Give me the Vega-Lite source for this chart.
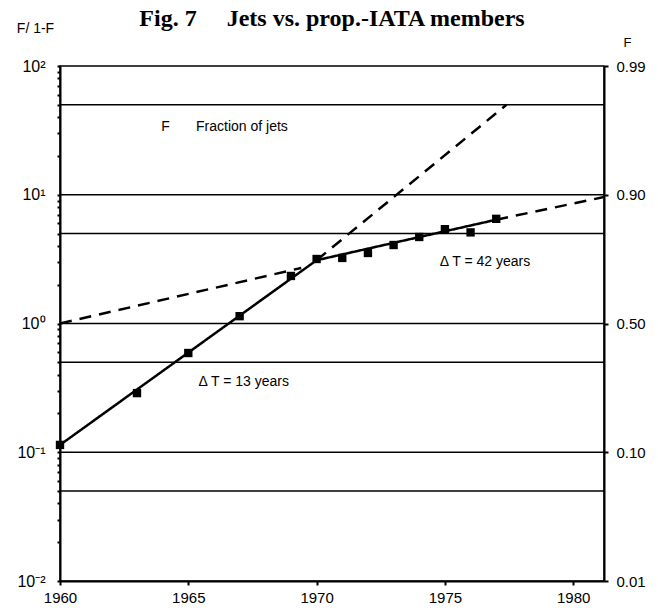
{
  "$schema": "https://vega.github.io/schema/vega-lite/v6.json",
  "width": 544,
  "height": 515,
  "autosize": "none",
  "padding": {"left": 60, "top": 66, "right": 54, "bottom": 30},
  "background": "white",
  "title": {"text": "Fig. 7\u00a0\u00a0\u00a0\u00a0\u00a0Jets vs. prop.-IATA members", "font": "Liberation Serif", "fontSize": 24, "fontWeight": "bold", "color": "black", "anchor": "middle", "baseline": "alphabetic", "offset": 0, "dy": 29},
  "config": {
    "view": {"stroke": "black", "strokeWidth": 1.5},
    "axis": {"domainColor": "black", "domainWidth": 2, "tickColor": "black", "labelColor": "black", "labelFont": "Liberation Sans", "labelFontSize": 15, "titleFont": "Liberation Sans", "titleColor": "black", "titleFontWeight": "normal", "grid": false}
  },
  "datasets": {
    "pts": [
      {"year": 1960, "v": 0.114}, {"year": 1963, "v": 0.288}, {"year": 1965, "v": 0.59},
      {"year": 1967, "v": 1.14}, {"year": 1969, "v": 2.34}, {"year": 1970, "v": 3.17},
      {"year": 1971, "v": 3.23}, {"year": 1972, "v": 3.53}, {"year": 1973, "v": 4.07},
      {"year": 1974, "v": 4.7}, {"year": 1975, "v": 5.4}, {"year": 1976, "v": 5.1},
      {"year": 1977, "v": 6.5}
    ],
    "fit": [
      {"seg": "D", "style": "solid", "year": 1960, "v": 0.114},
      {"seg": "D", "style": "solid", "year": 1970, "v": 3.1},
      {"seg": "E", "style": "solid", "year": 1970, "v": 3.1},
      {"seg": "E", "style": "solid", "year": 1977, "v": 6.4},
      {"seg": "A", "style": "dashed", "year": 1960, "v": 1.0},
      {"seg": "A", "style": "dashed", "year": 1969.4, "v": 2.7},
      {"seg": "B", "style": "dashed", "year": 1977, "v": 6.4},
      {"seg": "B", "style": "dashed", "year": 1981.2, "v": 9.6},
      {"seg": "C", "style": "dashed", "year": 1970, "v": 3.1},
      {"seg": "C", "style": "dashed", "year": 1977.4, "v": 50}
    ],
    "grid": [{"v": 50}, {"v": 10}, {"v": 5}, {"v": 1}, {"v": 0.5}, {"v": 0.1}, {"v": 0.05}],
    "notes": [
      {"year": 1963.95, "v": 33.6, "label": "F"},
      {"year": 1965.3, "v": 33.6, "label": "Fraction of jets"},
      {"year": 1965.4, "v": 0.352, "label": "Δ T = 13 years"},
      {"year": 1974.8, "v": 3.0, "label": "Δ T = 42 years"}
    ]
  },
  "resolve": {"axis": {"y": "independent"}},
  "layer": [
    {
      "data": {"name": "grid"},
      "mark": {"type": "rule", "color": "black", "strokeWidth": 1.5},
      "encoding": {
        "y": {"field": "v", "type": "quantitative", "scale": {"type": "log", "domain": [0.01, 100], "nice": false},
          "axis": {"orient": "right", "values": [100, 10, 1, 0.1, 0.01], "labelExpr": "datum.value == 100 ? '0.99' : datum.value == 10 ? '0.90' : datum.value == 1 ? '0.50' : datum.value == 0.1 ? '0.10' : '0.01'", "tickSize": 4, "tickWidth": 2, "labelPadding": 8, "labelOverlap": false, "labelBound": false, "labelFlush": false, "title": "F", "titleAngle": 0, "titleFontSize": 13, "titleX": 23, "titleY": -24, "titleAlign": "center", "titleBaseline": "middle"}}
      }
    },
    {
      "data": {"name": "fit"},
      "mark": {"type": "line", "color": "black", "strokeWidth": 2.5},
      "encoding": {
        "x": {"field": "year", "type": "quantitative", "scale": {"domain": [1960, 1981.2], "nice": false, "zero": false}},
        "y": {"field": "v", "type": "quantitative", "axis": null},
        "detail": {"field": "seg"},
        "strokeDash": {"field": "style", "type": "nominal", "scale": {"domain": ["solid", "dashed"], "range": [[1, 0], [12, 8]]}, "legend": null}
      }
    },
    {
      "data": {"name": "pts"},
      "mark": {"type": "square", "color": "black", "filled": true, "opacity": 1, "size": 70},
      "encoding": {
        "x": {"field": "year", "type": "quantitative", "scale": {"domain": [1960, 1981.2], "nice": false, "zero": false},
          "axis": {"values": [1960, 1965, 1970, 1975, 1980], "format": "d", "tickSize": 4, "tickWidth": 2, "labelPadding": 5, "title": null, "labelFlush": false, "labelOverlap": false}},
        "y": {"field": "v", "type": "quantitative",
          "axis": {"orient": "left", "values": [0.01, 0.02, 0.03, 0.04, 0.05, 0.06, 0.07, 0.08, 0.09, 0.1, 0.2, 0.3, 0.4, 0.5, 0.6, 0.7, 0.8, 0.9, 1, 2, 3, 4, 5, 6, 7, 8, 9, 10, 20, 30, 40, 50, 60, 70, 80, 90, 100],
            "labelExpr": "datum.value == 100 ? '10²' : datum.value == 10 ? '10¹' : datum.value == 1 ? '10⁰' : datum.value == 0.1 ? '10⁻¹' : datum.value == 0.01 ? '10⁻²' : ''",
            "labelFontSize": 16, "tickSize": 3, "tickWidth": 2, "labelPadding": 12, "labelOverlap": false, "labelBound": false, "labelFlush": false,
            "title": "F/ 1-F", "titleAngle": 0, "titleFontSize": 14, "titleX": -25, "titleY": -38, "titleAlign": "center", "titleBaseline": "middle"}}
      }
    },
    {
      "data": {"name": "notes"},
      "mark": {"type": "text", "color": "black", "font": "Liberation Sans", "fontSize": 14, "align": "left", "baseline": "middle"},
      "encoding": {
        "x": {"field": "year", "type": "quantitative"},
        "y": {"field": "v", "type": "quantitative", "axis": null},
        "text": {"field": "label"}
      }
    }
  ]
}
